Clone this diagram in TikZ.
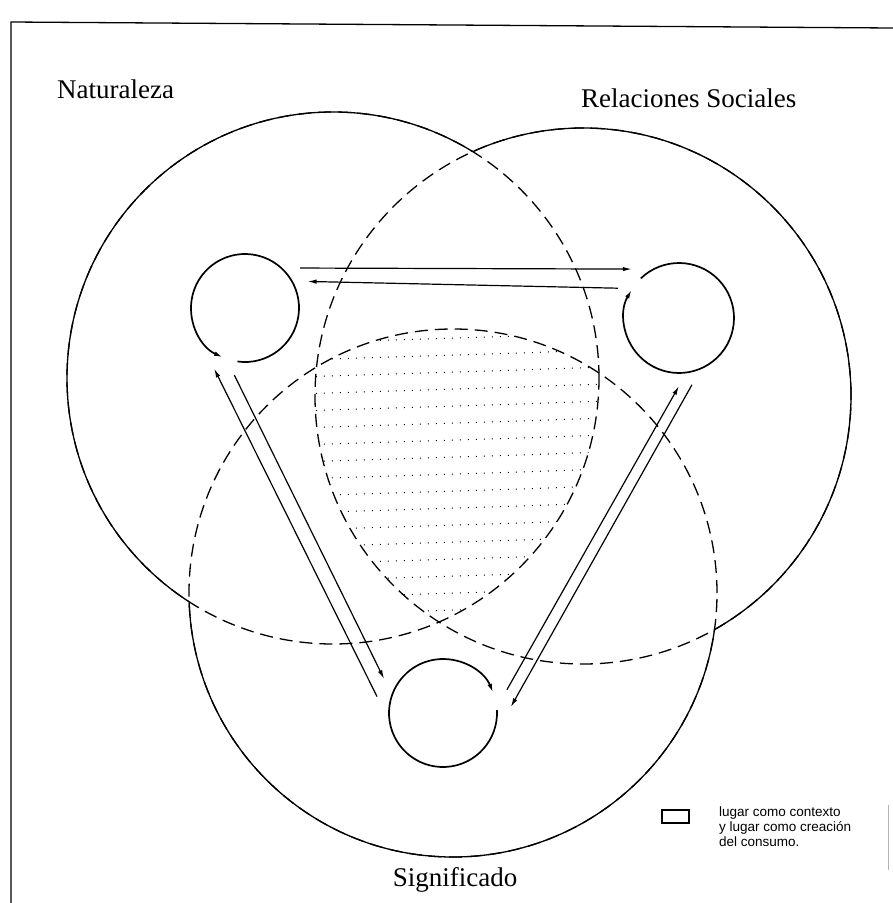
\documentclass[tikz,border=0pt]{standalone}
\usepackage{fontspec}
\setmainfont{Liberation Serif}
\newfontfamily\legendfont{Liberation Sans}
\usetikzlibrary{arrows.meta,calc}
\tikzset{>={Latex[length=9pt,width=4.5pt]},big/.style={line width=1.3pt},bigdash/.style={line width=1.3pt,dash pattern=on 13pt off 7pt},small/.style={line width=1.7pt},flow/.style={line width=1.2pt,->},hub/.style={circle,minimum size=136pt,inner sep=0pt,outer sep=0pt},lab/.style={font=\fontsize{27}{30}\selectfont,inner sep=0pt}}

\begin{document}
\begin{tikzpicture}[x=1pt,y=1pt]
\useasboundingbox (0,-903) rectangle (893,0);
\draw[line width=1.3pt] (893,-28)--(11,-22)--(11,-903);
\draw[gray!60,line width=.6pt] (888,-805)--(888,-870);
\coordinate (cA) at (333,-378);\coordinate (cB) at (583,-396);\coordinate (cC) at (453,-593);
\def\rA{266}\def\rB{268}\def\rC{264}
% dotted field where the three meet
\begin{scope}
\clip (cA) circle[radius=\rA];\clip (cB) circle[radius=\rB];\clip (cC) circle[radius=\rC];
\foreach \y in {338,355,...,650} \draw[line width=1pt,dash pattern=on 1pt off 7pt] (300,-\y-5)--(610,-\y+5);
\end{scope}
\draw[bigdash] (cA) circle[radius=\rA];\draw[bigdash] (cB) circle[radius=\rB];\draw[bigdash] (cC) circle[radius=\rC];
\begin{scope}[even odd rule]\clip (0,0) rectangle (893,-903) (cB) circle[radius=\rB];\clip (0,0) rectangle (893,-903) (cC) circle[radius=\rC];\draw[big] (cA) circle[radius=\rA];\end{scope}
\begin{scope}[even odd rule]\clip (0,0) rectangle (893,-903) (cA) circle[radius=\rA];\clip (0,0) rectangle (893,-903) (cC) circle[radius=\rC];\draw[big] (cB) circle[radius=\rB];\end{scope}
\begin{scope}[even odd rule]\clip (0,0) rectangle (893,-903) (cA) circle[radius=\rA];\clip (0,0) rectangle (893,-903) (cB) circle[radius=\rB];\draw[big] (cC) circle[radius=\rC];\end{scope}
% small circles
\node[hub] (nat) at (245,-308) {};\node[hub] (rel) at (679,-318) {};\node[hub] (sig) at (443,-713) {};
\draw[small,->] ([shift={(262:54)}]nat.center) arc[start angle=262,end angle=606,radius=54];
\draw[small,->] ([shift={(134:55)}]rel.center) arc[start angle=134,end angle=-211,radius=55];
\draw[small,->] ([shift={(3:54)}]sig.center) arc[start angle=3,end angle=-338,radius=54];
\draw[flow] (nat.36)--(rel.134);\draw[flow] (rel.154)--(nat.23);
\draw[flow] (sig.166)--(nat.243);\draw[flow] (nat.261)--(sig.150);
\draw[flow] (sig.20)--(rel.270);\draw[flow] (rel.281)--(sig.5);
\node[lab,anchor=base west] (natlab) at (57,-98) {Naturaleza};
\node[lab,anchor=base west] (rellab) at (581,-107) {Relaciones Sociales};
\node[lab,anchor=base] (siglab) at (455,-886) {Significado};
\node[draw,line width=1.1pt,minimum width=27pt,minimum height=13pt,inner sep=0pt] (key) at (675.5,-816.5) {};
\node[anchor=north west,align=left,inner sep=0pt,font=\legendfont\fontsize{13.5}{15}\selectfont] (keytext) at (719,-807) {lugar como contexto\\y lugar como creación\\del consumo.};
\end{tikzpicture}
\end{document}
